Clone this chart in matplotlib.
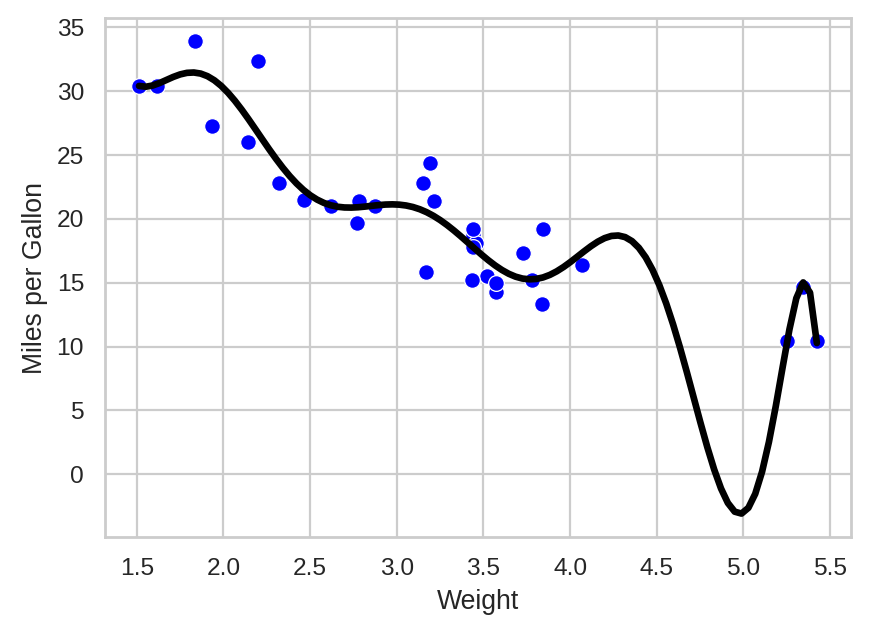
import numpy as np
import matplotlib
matplotlib.use("Agg")
import matplotlib.pyplot as plt
import seaborn as sns

# mtcars: weight (1000 lbs) and mpg
wt = [2.620, 2.875, 2.320, 3.215, 3.440, 3.460, 3.570, 3.190, 3.150, 3.440,
      3.440, 4.070, 3.730, 3.780, 5.250, 5.424, 5.345, 2.200, 1.615, 1.835,
      2.465, 3.520, 3.435, 3.840, 3.845, 1.935, 2.140, 1.513, 3.170, 2.770,
      3.570, 2.780]
mpg = [21.0, 21.0, 22.8, 21.4, 18.7, 18.1, 14.3, 24.4, 22.8, 19.2,
       17.8, 16.4, 17.3, 15.2, 10.4, 10.4, 14.7, 32.4, 30.4, 33.9,
       21.5, 15.5, 15.2, 13.3, 19.2, 27.3, 26.0, 30.4, 15.8, 19.7,
       15.0, 21.4]
fit_order = 10

sns.set_theme(style="whitegrid")
plt.rcParams['font.family'] = ['Liberation Sans', 'DejaVu Sans']

fig, ax = plt.subplots(figsize=(869 / 160, 638 / 160), dpi=160)
fig.subplots_adjust(left=0.121, right=0.979, top=0.972, bottom=0.158)

x = np.array(wt)
y = np.array(mpg)
coef = np.polyfit(x, y, fit_order)
grid = np.linspace(x.min(), x.max(), 100)
ax.plot(grid, np.polyval(coef, grid), color="black", lw=3, zorder=3)

sns.scatterplot(x=wt, y=mpg, color="blue", s=50, ax=ax, zorder=2)

ax.set_xlabel("Weight")
ax.set_ylabel("Miles per Gallon")
ax.set_xticks([1.5, 2.0, 2.5, 3.0, 3.5, 4.0, 4.5, 5.0, 5.5])
ax.set_yticks([0, 5, 10, 15, 20, 25, 30, 35])

fig.savefig("out.png", dpi=160)
